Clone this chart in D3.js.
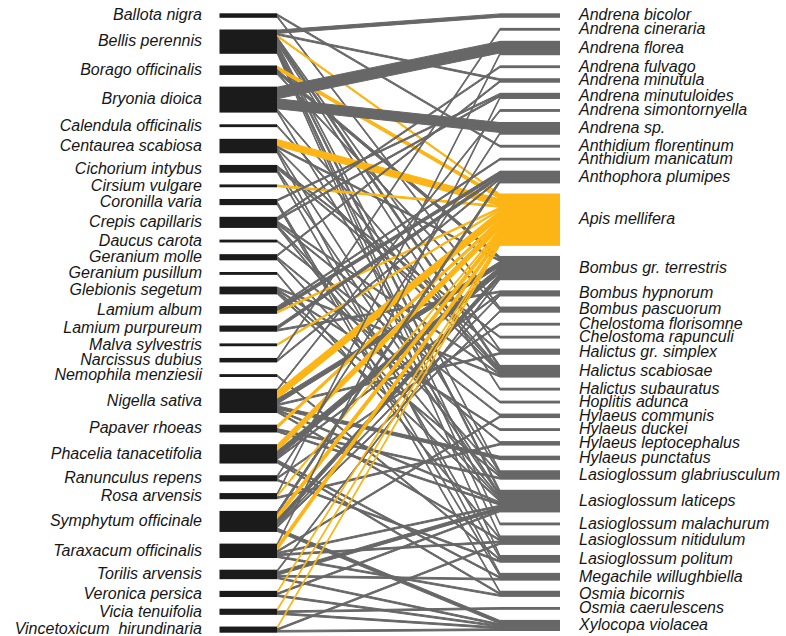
<!DOCTYPE html>
<html><head><meta charset="utf-8">
<script src="https://cdn.jsdelivr.net/npm/d3@7"></script>
<style>body{margin:0;background:#fff} text{white-space:pre}</style>
</head><body>
<svg id="c" width="786" height="636"></svg>
<script>
const plants = ["Ballota nigra","Bellis perennis","Borago officinalis","Bryonia dioica","Calendula officinalis","Centaurea scabiosa","Cichorium intybus","Cirsium vulgare","Coronilla varia","Crepis capillaris","Daucus carota","Geranium molle","Geranium pusillum","Glebionis segetum","Lamium album","Lamium purpureum","Malva sylvestris","Narcissus dubius","Nemophila menziesii","Nigella sativa","Papaver rhoeas","Phacelia tanacetifolia","Ranunculus repens","Rosa arvensis","Symphytum officinale","Taraxacum officinalis","Torilis arvensis","Veronica persica","Vicia tenuifolia","Vincetoxicum  hirundinaria"];
const pollinators = ["Andrena bicolor","Andrena cineraria","Andrena florea","Andrena fulvago","Andrena minutula","Andrena minutuloides","Andrena simontornyella","Andrena sp.","Anthidium florentinum","Anthidium manicatum","Anthophora plumipes","Apis mellifera","Bombus gr. terrestris","Bombus hypnorum","Bombus pascuorum","Chelostoma florisomne","Chelostoma rapunculi","Halictus gr. simplex","Halictus scabiosae","Halictus subauratus","Hoplitis adunca","Hylaeus communis","Hylaeus duckei","Hylaeus leptocephalus","Hylaeus punctatus","Lasioglossum glabriusculum","Lasioglossum laticeps","Lasioglossum malachurum","Lasioglossum nitidulum","Lasioglossum politum","Megachile willughbiella","Osmia bicornis","Osmia caerulescens","Xylocopa violacea"];
const highlight = "Apis mellifera";
// [plant, pollinator, number of interactions]
const interactions = [
["Ballota nigra","Anthidium florentinum",1],["Ballota nigra","Bombus pascuorum",1],
["Bellis perennis","Andrena bicolor",2],["Bellis perennis","Andrena minutula",1],["Bellis perennis","Apis mellifera",1],["Bellis perennis","Halictus gr. simplex",1],["Bellis perennis","Halictus scabiosae",2],["Bellis perennis","Halictus subauratus",1],["Bellis perennis","Lasioglossum glabriusculum",1],["Bellis perennis","Lasioglossum laticeps",2],["Bellis perennis","Lasioglossum malachurum",1],["Bellis perennis","Lasioglossum nitidulum",1],["Bellis perennis","Lasioglossum politum",1],
["Borago officinalis","Apis mellifera",2],["Borago officinalis","Bombus gr. terrestris",2],["Borago officinalis","Bombus pascuorum",1],
["Bryonia dioica","Andrena florea",7],["Bryonia dioica","Andrena sp.",6],["Bryonia dioica","Halictus scabiosae",1],["Bryonia dioica","Lasioglossum glabriusculum",1],
["Calendula officinalis","Halictus scabiosae",1],
["Centaurea scabiosa","Apis mellifera",4],["Centaurea scabiosa","Bombus gr. terrestris",1],["Centaurea scabiosa","Halictus scabiosae",1],["Centaurea scabiosa","Lasioglossum laticeps",1],["Centaurea scabiosa","Megachile willughbiella",1],
["Cichorium intybus","Chelostoma rapunculi",1],["Cichorium intybus","Halictus gr. simplex",1],["Cichorium intybus","Lasioglossum laticeps",1],["Cichorium intybus","Lasioglossum politum",1],
["Cirsium vulgare","Apis mellifera",1],
["Coronilla varia","Andrena minutuloides",1],["Coronilla varia","Megachile willughbiella",1],["Coronilla varia","Osmia bicornis",1],
["Crepis capillaris","Andrena fulvago",1],["Crepis capillaris","Andrena minutuloides",1],["Crepis capillaris","Halictus scabiosae",1],["Crepis capillaris","Hoplitis adunca",1],["Crepis capillaris","Lasioglossum glabriusculum",1],["Crepis capillaris","Lasioglossum laticeps",1],
["Daucus carota","Hylaeus communis",1],
["Geranium molle","Andrena minutula",1],["Geranium molle","Hylaeus leptocephalus",1],["Geranium molle","Lasioglossum laticeps",1],
["Geranium pusillum","Lasioglossum nitidulum",1],
["Glebionis segetum","Halictus scabiosae",1],["Glebionis segetum","Hylaeus duckei",1],["Glebionis segetum","Lasioglossum glabriusculum",1],["Glebionis segetum","Lasioglossum laticeps",1],
["Lamium album","Anthidium manicatum",1],["Lamium album","Anthophora plumipes",2],["Lamium album","Apis mellifera",1],
["Lamium purpureum","Anthophora plumipes",2],["Lamium purpureum","Bombus hypnorum",1],
["Malva sylvestris","Apis mellifera",1],
["Narcissus dubius","Andrena cineraria",1],["Narcissus dubius","Anthophora plumipes",1],
["Nemophila menziesii","Lasioglossum politum",1],
["Nigella sativa","Andrena simontornyella",1],["Nigella sativa","Apis mellifera",5],["Nigella sativa","Bombus gr. terrestris",3],["Nigella sativa","Halictus gr. simplex",1],["Nigella sativa","Hylaeus punctatus",2],["Nigella sativa","Lasioglossum laticeps",1],["Nigella sativa","Lasioglossum nitidulum",1],
["Papaver rhoeas","Apis mellifera",2],["Papaver rhoeas","Lasioglossum glabriusculum",1],["Papaver rhoeas","Lasioglossum laticeps",1],
["Phacelia tanacetifolia","Apis mellifera",4],["Phacelia tanacetifolia","Bombus gr. terrestris",4],["Phacelia tanacetifolia","Bombus hypnorum",1],["Phacelia tanacetifolia","Megachile willughbiella",1],["Phacelia tanacetifolia","Osmia bicornis",1],
["Ranunculus repens","Andrena sp.",1],["Ranunculus repens","Chelostoma florisomne",1],["Ranunculus repens","Lasioglossum politum",1],
["Rosa arvensis","Andrena florea",1],["Rosa arvensis","Apis mellifera",1],["Rosa arvensis","Hylaeus leptocephalus",1],
["Symphytum officinale","Anthophora plumipes",2],["Symphytum officinale","Apis mellifera",3],["Symphytum officinale","Bombus gr. terrestris",3],["Symphytum officinale","Bombus hypnorum",1],["Symphytum officinale","Bombus pascuorum",1],["Symphytum officinale","Xylocopa violacea",2],
["Taraxacum officinalis","Andrena minutuloides",1],["Taraxacum officinalis","Apis mellifera",3],["Taraxacum officinalis","Hylaeus communis",1],["Taraxacum officinalis","Lasioglossum laticeps",1],["Taraxacum officinalis","Lasioglossum nitidulum",1],["Taraxacum officinalis","Osmia bicornis",1],
["Torilis arvensis","Bombus gr. terrestris",1],["Torilis arvensis","Lasioglossum laticeps",2],["Torilis arvensis","Megachile willughbiella",1],["Torilis arvensis","Xylocopa violacea",1],
["Veronica persica","Apis mellifera",1],["Veronica persica","Lasioglossum laticeps",1],["Veronica persica","Xylocopa violacea",1],
["Vicia tenuifolia","Apis mellifera",1],["Vicia tenuifolia","Osmia caerulescens",1],["Vicia tenuifolia","Xylocopa violacea",1],
["Vincetoxicum  hirundinaria","Apis mellifera",1],["Vincetoxicum  hirundinaria","Lasioglossum nitidulum",1],["Vincetoxicum  hirundinaria","Xylocopa violacea",1]
];

const svg = d3.select("#c");
const GRAY = "#676767", BLACK = "#1b1b1b", YEL = "#fcb514";
const w = d3.scaleLinear().domain([0, 1]).range([0, 1.65]);
const minH = 1.2;
const x = d3.scaleOrdinal().domain(["plantBox0","plantBox1","polBox0","polBox1"]).range([219.5, 277, 500, 560]);

const pIdx = new Map(plants.map((d,i)=>[d,i]));
const qIdx = new Map(pollinators.map((d,i)=>[d,i]));
const pTot = plants.map(p => d3.sum(interactions.filter(l=>l[0]===p), l=>l[2]));
const qTot = pollinators.map(q => d3.sum(interactions.filter(l=>l[1]===q), l=>l[2]));

function layout(tot, top, bottom){
  const hs = tot.map(t => w(t) + minH);
  const gap = (bottom - top - d3.sum(hs)) / (tot.length - 1);
  const yScale = d3.scaleLinear().domain([0, d3.sum(hs) + gap*(tot.length-1)]).range([top, bottom]);
  let acc = 0;
  return hs.map(h => { const o = {y0: yScale(acc), h}; acc += h + gap; return o; });
}
const pBox = layout(pTot, 13.3, 632.7);
const qBox = layout(qTot, 13.3, 631);

const pCur = pBox.map(b => b.y0 + minH/2);
const qCur = qBox.map(b => b.y0 + minH/2);
const sortedP = interactions.slice().sort((a,b)=> pIdx.get(a[0])-pIdx.get(b[0]) || qIdx.get(a[1])-qIdx.get(b[1]));
const linkGeom = new Map();
sortedP.forEach(l => { const i = pIdx.get(l[0]); const t = pCur[i]; pCur[i] += w(l[2]); linkGeom.set(l, {a0:t, a1:pCur[i]}); });
const sortedQ = interactions.slice().sort((a,b)=> qIdx.get(a[1])-qIdx.get(b[1]) || pIdx.get(a[0])-pIdx.get(b[0]));
sortedQ.forEach(l => { const j = qIdx.get(l[1]); const t = qCur[j]; qCur[j] += w(l[2]); const g = linkGeom.get(l); g.b0 = t; g.b1 = qCur[j]; });

const x1 = x("plantBox1"), x2 = x("polBox0");
svg.append("g").selectAll("path").data(sortedP).join("path")
  .attr("d", l => { const g = linkGeom.get(l); return `M${x1},${g.a0}L${x2},${g.b0}L${x2},${g.b1}L${x1},${g.a1}Z`; })
  .attr("fill", l => l[1]===highlight ? YEL : GRAY)
  .attr("stroke", l => l[1]===highlight ? YEL : GRAY).attr("stroke-width", 1).attr("stroke-linejoin","round");

svg.append("g").selectAll("rect").data(plants).join("rect")
  .attr("x", x("plantBox0")).attr("width", x("plantBox1")-x("plantBox0"))
  .attr("y", (d,i)=>pBox[i].y0).attr("height", (d,i)=>pBox[i].h).attr("fill", BLACK);
svg.append("g").selectAll("rect").data(pollinators).join("rect")
  .attr("x", x("polBox0")).attr("width", x("polBox1")-x("polBox0"))
  .attr("y", (d,i)=>qBox[i].y0).attr("height", (d,i)=>qBox[i].h)
  .attr("fill", d => d===highlight ? YEL : GRAY);

const font = "'Liberation Sans', Arial, sans-serif";
svg.append("g").selectAll("text").data(plants).join("text")
  .attr("x", 202).attr("y", (d,i)=>pBox[i].y0 + pBox[i].h/2 + 4.8)
  .attr("text-anchor","end").attr("font-family",font).attr("font-style","italic")
  .attr("font-size",16).attr("fill","#161616").text(d=>d);
svg.append("g").selectAll("text").data(pollinators).join("text")
  .attr("x", 579).attr("y", (d,i)=>qBox[i].y0 + qBox[i].h/2 + 4.8)
  .attr("text-anchor","start").attr("font-family",font).attr("font-style","italic")
  .attr("font-size",16).attr("fill","#161616").text(d=>d);
</script>
</body></html>
